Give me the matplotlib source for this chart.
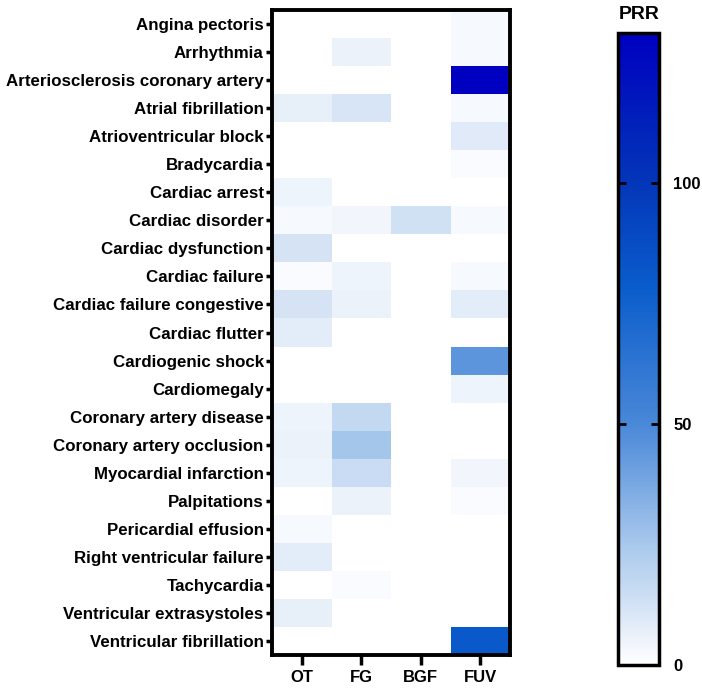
import numpy as np
import matplotlib.pyplot as plt
from matplotlib.colors import LinearSegmentedColormap

plt.rcParams['font.family'] = ['Liberation Sans', 'DejaVu Sans']
plt.rcParams['font.weight'] = 'bold'

events = ["Angina pectoris", "Arrhythmia", "Arteriosclerosis coronary artery",
          "Atrial fibrillation", "Atrioventricular block", "Bradycardia",
          "Cardiac arrest", "Cardiac disorder", "Cardiac dysfunction",
          "Cardiac failure", "Cardiac failure congestive", "Cardiac flutter",
          "Cardiogenic shock", "Cardiomegaly", "Coronary artery disease",
          "Coronary artery occlusion", "Myocardial infarction", "Palpitations",
          "Pericardial effusion", "Right ventricular failure", "Tachycardia",
          "Ventricular extrasystoles", "Ventricular fibrillation"]
groups = ["OT", "FG", "BGF", "FUV"]

ot  = [0, 0, 0, 7, 0, 0, 5, 3, 12, 2, 12, 8, 0, 0, 5, 6, 5, 0, 3, 8, 0, 7, 0]
fg  = [0, 6, 0, 11, 0, 0, 0, 4, 0, 5, 6, 0, 0, 0, 17, 26, 15, 6, 0, 0, 2, 0, 0]
bgf = [0, 0, 0, 0, 0, 0, 0, 13, 0, 0, 0, 0, 0, 0, 0, 0, 0, 0, 0, 0, 0, 0, 0]
fuv = [3, 3, 130, 3, 9, 2, 0, 3, 0, 3, 8, 0, 45, 5, 0, 0, 4, 2, 0, 0, 0, 0, 80]

data = np.array([ot, fg, bgf, fuv]).T
vmax = 131

cmap = LinearSegmentedColormap.from_list("prr", [
    (0.0, "#ffffff"),
    (0.1, "#d0e0f4"),
    (0.19, "#a8c8ec"),
    (0.38, "#4a88d8"),
    (0.6, "#0a5ccc"),
    (0.77, "#0335b8"),
    (1.0, "#0000c0")])

fig = plt.figure(figsize=(7.02, 6.93), dpi=100)
ax = fig.add_axes([0.3875, 0.0548, 0.339, 0.9308])
mesh = ax.pcolormesh(data, cmap=cmap, vmin=0, vmax=vmax)
ax.set_xlim(0, 4)
ax.set_ylim(len(events), 0)
ax.set_xticks(np.arange(4) + 0.5)
ax.set_xticklabels(groups, fontsize=12, fontweight='bold')
ax.set_yticks(np.arange(len(events)) + 0.5)
ax.set_yticklabels(events, fontsize=12.2, fontweight='bold')
ax.tick_params(axis='y', length=4, width=2.5, pad=2)
ax.tick_params(axis='x', length=7, width=2.5, pad=4)
for s in ax.spines.values():
    s.set_linewidth(2.8)

cax = fig.add_axes([0.881, 0.0404, 0.058, 0.912])
cb = fig.colorbar(mesh, cax=cax)
cb.set_ticks([0, 50, 100])
cb.outline.set_linewidth(2.5)
cax.tick_params(axis='y', which='both', direction='in', length=6, width=2,
                left=True, right=True, labelsize=12, pad=10)
cax.minorticks_off()
for t in cax.get_yticklabels():
    t.set_fontweight('bold')
cax.set_title("PRR", fontsize=14, fontweight='bold', pad=10)

fig.savefig("out.png", dpi=100)
